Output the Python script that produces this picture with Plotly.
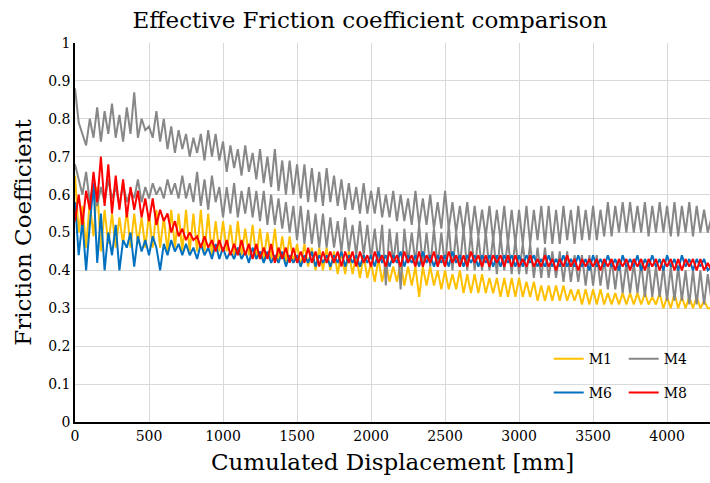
import plotly.graph_objects as go

STEP = 25  # sampling interval of the lists below [mm]

m1 = [
    0.65, 0.50, 0.57, 0.46, 0.58, 0.49, 0.62, 0.45, 0.56, 0.47,
    0.55, 0.46, 0.54, 0.47, 0.56, 0.46, 0.55, 0.47, 0.54, 0.46,
    0.55, 0.46, 0.56, 0.46, 0.54, 0.45, 0.56, 0.46, 0.55, 0.45,
    0.56, 0.45, 0.55, 0.45, 0.56, 0.45, 0.55, 0.44, 0.53, 0.45,
    0.53, 0.45, 0.52, 0.44, 0.53, 0.44, 0.51, 0.44, 0.52, 0.43,
    0.51, 0.43, 0.50, 0.43, 0.51, 0.42, 0.49, 0.42, 0.49, 0.42,
    0.47, 0.41, 0.47, 0.41, 0.46, 0.40, 0.46, 0.40, 0.46, 0.40,
    0.45, 0.39, 0.45, 0.39, 0.45, 0.39, 0.44, 0.38, 0.44, 0.38,
    0.42, 0.37, 0.43, 0.37, 0.42, 0.37, 0.41, 0.37, 0.42, 0.36,
    0.41, 0.36, 0.41, 0.33, 0.41, 0.36, 0.41, 0.36, 0.40, 0.35,
    0.40, 0.35, 0.39, 0.35, 0.40, 0.34, 0.39, 0.34, 0.39, 0.34,
    0.39, 0.34, 0.38, 0.34, 0.38, 0.33, 0.38, 0.33, 0.38, 0.33,
    0.38, 0.33, 0.37, 0.33, 0.37, 0.32, 0.36, 0.32, 0.36, 0.32,
    0.36, 0.32, 0.36, 0.32, 0.35, 0.32, 0.35, 0.31, 0.35, 0.31,
    0.35, 0.31, 0.35, 0.31, 0.34, 0.31, 0.34, 0.31, 0.34, 0.31,
    0.34, 0.31, 0.34, 0.31, 0.34, 0.31, 0.33, 0.31, 0.34, 0.30,
    0.33, 0.30, 0.34, 0.30, 0.33, 0.30, 0.33, 0.30, 0.33, 0.30,
    0.32, 0.30, 0.30,
]

m4_a = [
    0.88, 0.79, 0.76, 0.73, 0.80, 0.75, 0.83, 0.74, 0.82, 0.76,
    0.84, 0.75, 0.81, 0.74, 0.83, 0.76, 0.87, 0.75, 0.80, 0.77,
    0.78, 0.75, 0.82, 0.74, 0.80, 0.72, 0.78, 0.71, 0.77, 0.72,
    0.76, 0.70, 0.75, 0.71, 0.76, 0.69, 0.77, 0.70, 0.76, 0.69,
    0.74, 0.66, 0.73, 0.67, 0.72, 0.65, 0.73, 0.66, 0.71, 0.64,
    0.72, 0.63, 0.70, 0.62, 0.72, 0.61, 0.69, 0.60, 0.69, 0.60,
    0.68, 0.59, 0.68, 0.58, 0.67, 0.58, 0.66, 0.57, 0.67, 0.58,
    0.65, 0.57, 0.64, 0.56, 0.63, 0.56, 0.62, 0.55, 0.63, 0.55,
    0.61, 0.55, 0.62, 0.54, 0.60, 0.54, 0.61, 0.53, 0.60, 0.53,
    0.59, 0.52, 0.61, 0.52, 0.59, 0.52, 0.60, 0.51, 0.58, 0.51,
    0.61, 0.51, 0.58, 0.50, 0.57, 0.50, 0.58, 0.49, 0.57, 0.49,
    0.56, 0.49, 0.57, 0.48, 0.56, 0.48, 0.57, 0.47, 0.56, 0.47,
    0.56, 0.47, 0.57, 0.47, 0.56, 0.48, 0.57, 0.47, 0.57, 0.47,
    0.56, 0.47, 0.57, 0.48, 0.56, 0.47, 0.57, 0.48, 0.56, 0.48,
    0.57, 0.48, 0.56, 0.49, 0.58, 0.49, 0.57, 0.50, 0.58, 0.50,
    0.58, 0.50, 0.57, 0.50, 0.58, 0.49, 0.57, 0.50, 0.58, 0.50,
    0.57, 0.49, 0.58, 0.49, 0.57, 0.50, 0.58, 0.49, 0.57, 0.50,
    0.56, 0.50, 0.54,
]

m4_b = [
    0.68, 0.64, 0.60, 0.66, 0.58, 0.63, 0.57, 0.62, 0.58, 0.64,
    0.59, 0.62, 0.57, 0.63, 0.58, 0.61, 0.59, 0.64, 0.58, 0.62,
    0.59, 0.63, 0.60, 0.62, 0.59, 0.64, 0.60, 0.63, 0.59, 0.65,
    0.59, 0.63, 0.58, 0.66, 0.57, 0.64, 0.56, 0.65, 0.58, 0.62,
    0.54, 0.62, 0.55, 0.63, 0.54, 0.61, 0.55, 0.62, 0.54, 0.61,
    0.53, 0.61, 0.52, 0.60, 0.52, 0.59, 0.51, 0.58, 0.50, 0.57,
    0.48, 0.57, 0.47, 0.56, 0.47, 0.55, 0.46, 0.55, 0.46, 0.54,
    0.46, 0.53, 0.45, 0.54, 0.45, 0.52, 0.44, 0.53, 0.44, 0.52,
    0.43, 0.51, 0.42, 0.52, 0.36, 0.51, 0.42, 0.50, 0.35, 0.51,
    0.42, 0.50, 0.42, 0.52, 0.41, 0.50, 0.41, 0.51, 0.41, 0.50,
    0.41, 0.52, 0.40, 0.50, 0.41, 0.51, 0.40, 0.50, 0.40, 0.49,
    0.40, 0.50, 0.40, 0.49, 0.39, 0.49, 0.40, 0.48, 0.39, 0.48,
    0.39, 0.47, 0.39, 0.47, 0.38, 0.46, 0.38, 0.46, 0.38, 0.45,
    0.38, 0.45, 0.37, 0.45, 0.37, 0.44, 0.37, 0.44, 0.36, 0.44,
    0.36, 0.44, 0.36, 0.43, 0.35, 0.43, 0.35, 0.43, 0.34, 0.42,
    0.34, 0.42, 0.34, 0.42, 0.33, 0.42, 0.33, 0.41, 0.33, 0.41,
    0.32, 0.41, 0.32, 0.41, 0.32, 0.40, 0.31, 0.40, 0.31, 0.40,
    0.31, 0.39, 0.32,
]

m6 = [
    0.58, 0.44, 0.53, 0.40, 0.52, 0.63, 0.42, 0.55, 0.40, 0.50,
    0.44, 0.52, 0.40, 0.48, 0.46, 0.50, 0.41, 0.49, 0.45, 0.48,
    0.44, 0.49, 0.46, 0.40, 0.47, 0.44, 0.48, 0.45, 0.47, 0.44,
    0.47, 0.44, 0.46, 0.43, 0.47, 0.44, 0.46, 0.43, 0.47, 0.43,
    0.46, 0.43, 0.45, 0.43, 0.46, 0.43, 0.45, 0.42, 0.46, 0.43,
    0.45, 0.42, 0.45, 0.42, 0.44, 0.42, 0.45, 0.41, 0.44, 0.42,
    0.44, 0.41, 0.44, 0.42, 0.45, 0.41, 0.44, 0.42, 0.44, 0.41,
    0.44, 0.42, 0.45, 0.41, 0.44, 0.42, 0.44, 0.41, 0.44, 0.42,
    0.44, 0.41, 0.45, 0.42, 0.44, 0.41, 0.44, 0.42, 0.45, 0.41,
    0.44, 0.42, 0.44, 0.41, 0.45, 0.42, 0.44, 0.41, 0.44, 0.42,
    0.44, 0.41, 0.45, 0.42, 0.44, 0.41, 0.44, 0.42, 0.44, 0.41,
    0.44, 0.42, 0.44, 0.41, 0.44, 0.41, 0.44, 0.42, 0.44, 0.41,
    0.44, 0.41, 0.44, 0.42, 0.44, 0.41, 0.43, 0.41, 0.44, 0.41,
    0.43, 0.41, 0.44, 0.41, 0.43, 0.41, 0.44, 0.41, 0.43, 0.40,
    0.44, 0.41, 0.43, 0.41, 0.44, 0.41, 0.43, 0.40, 0.44, 0.41,
    0.43, 0.41, 0.44, 0.40, 0.43, 0.41, 0.44, 0.41, 0.43, 0.40,
    0.44, 0.41, 0.43, 0.40, 0.44, 0.41, 0.43, 0.40, 0.43, 0.41,
    0.43, 0.40, 0.41,
]

m8 = [
    0.53, 0.60, 0.52, 0.61, 0.56, 0.66, 0.58, 0.70, 0.57, 0.68,
    0.55, 0.65, 0.56, 0.64, 0.54, 0.62, 0.56, 0.61, 0.54, 0.59,
    0.53, 0.59, 0.52, 0.56, 0.53, 0.55, 0.50, 0.53, 0.49, 0.51,
    0.48, 0.50, 0.48, 0.49, 0.46, 0.49, 0.46, 0.48, 0.45, 0.48,
    0.45, 0.48, 0.44, 0.47, 0.44, 0.48, 0.44, 0.47, 0.43, 0.47,
    0.43, 0.46, 0.43, 0.47, 0.42, 0.46, 0.43, 0.46, 0.42, 0.46,
    0.42, 0.45, 0.42, 0.46, 0.42, 0.45, 0.41, 0.45, 0.42, 0.45,
    0.42, 0.45, 0.41, 0.45, 0.42, 0.45, 0.41, 0.45, 0.42, 0.44,
    0.41, 0.45, 0.42, 0.44, 0.41, 0.45, 0.42, 0.44, 0.41, 0.45,
    0.42, 0.44, 0.41, 0.45, 0.41, 0.44, 0.42, 0.45, 0.41, 0.44,
    0.41, 0.45, 0.42, 0.44, 0.41, 0.44, 0.41, 0.45, 0.42, 0.44,
    0.41, 0.44, 0.41, 0.44, 0.42, 0.44, 0.41, 0.44, 0.41, 0.44,
    0.41, 0.43, 0.41, 0.44, 0.41, 0.43, 0.41, 0.44, 0.41, 0.43,
    0.40, 0.43, 0.41, 0.44, 0.41, 0.43, 0.40, 0.43, 0.41, 0.43,
    0.41, 0.43, 0.40, 0.43, 0.41, 0.43, 0.40, 0.43, 0.41, 0.43,
    0.40, 0.43, 0.41, 0.43, 0.40, 0.43, 0.41, 0.43, 0.40, 0.43,
    0.41, 0.43, 0.40, 0.43, 0.40, 0.43, 0.41, 0.43, 0.40, 0.43,
    0.40, 0.42, 0.40,
]

x_ticks = [0, 500, 1000, 1500, 2000, 2500, 3000, 3500, 4000]
y_ticks = [0, 0.1, 0.2, 0.3, 0.4, 0.5, 0.6, 0.7, 0.8, 0.9, 1]
y_tick_text = ["0", "0.1", "0.2", "0.3", "0.4", "0.5", "0.6", "0.7", "0.8", "0.9", "1"]


def xs(vals):
    return [i * STEP for i in range(len(vals))]


SERIF = "DejaVu Serif"
fig = go.Figure()
fig.add_trace(go.Scatter(x=xs(m1), y=m1, mode="lines", name="M1",
                         line=dict(color="#FFC000", width=2), legend="legend"))
fig.add_trace(go.Scatter(x=xs(m4_a), y=m4_a, mode="lines", name="M4",
                         line=dict(color="#878787", width=2), legend="legend"))
fig.add_trace(go.Scatter(x=xs(m4_b), y=m4_b, mode="lines", name="M4",
                         line=dict(color="#878787", width=2), showlegend=False))
fig.add_trace(go.Scatter(x=xs(m6), y=m6, mode="lines", name="M6",
                         line=dict(color="#0070C0", width=2), legend="legend2"))
fig.add_trace(go.Scatter(x=xs(m8), y=m8, mode="lines", name="M8",
                         line=dict(color="#FF0000", width=2), legend="legend2"))

legend_common = dict(orientation="h", bgcolor="rgba(0,0,0,0)",
                     font=dict(family=SERIF, size=14, color="#000000"),
                     xanchor="left", yanchor="top", itemwidth=30,
                     entrywidth=30, tracegroupgap=0)

fig.update_layout(
    width=710, height=483,
    margin=dict(l=75, r=0, t=43, b=61),
    paper_bgcolor="white", plot_bgcolor="white",
    title=dict(text="Effective Friction coefficient comparison",
               font=dict(family=SERIF, size=23, color="#000000"),
               x=0.521, xanchor="center", y=0.958, yanchor="middle"),
    xaxis=dict(range=[0, 4290], tickvals=x_ticks, showgrid=True,
               gridcolor="#D9D9D9", gridwidth=1, showline=True,
               linecolor="#000000", linewidth=1.5, zeroline=False,
               ticks="", tickfont=dict(family=SERIF, size=14, color="#000000"),
               title=dict(text="Cumulated Displacement [mm]",
                          font=dict(family=SERIF, size=23, color="#000000"),
                          standoff=11)),
    yaxis=dict(range=[0, 1], tickvals=y_ticks, ticktext=y_tick_text,
               showgrid=True, gridcolor="#D9D9D9", gridwidth=1,
               showline=True, linecolor="#000000", linewidth=1.5,
               zeroline=False, ticks="",
               tickfont=dict(family=SERIF, size=14, color="#000000"),
               title=dict(text="Friction Coefficient",
                          font=dict(family=SERIF, size=23, color="#000000"),
                          standoff=10)),
    legend=dict(x=0.746, y=0.208, **legend_common),
    legend2=dict(x=0.746, y=0.119, **legend_common),
    shapes=[dict(type="rect", xref="paper", yref="paper",
                 x0=0.745, x1=0.984, y0=0.032, y1=0.235,
                 fillcolor="white", line=dict(width=0), layer="between")],
    showlegend=True,
)

fig.write_html("out.html")
